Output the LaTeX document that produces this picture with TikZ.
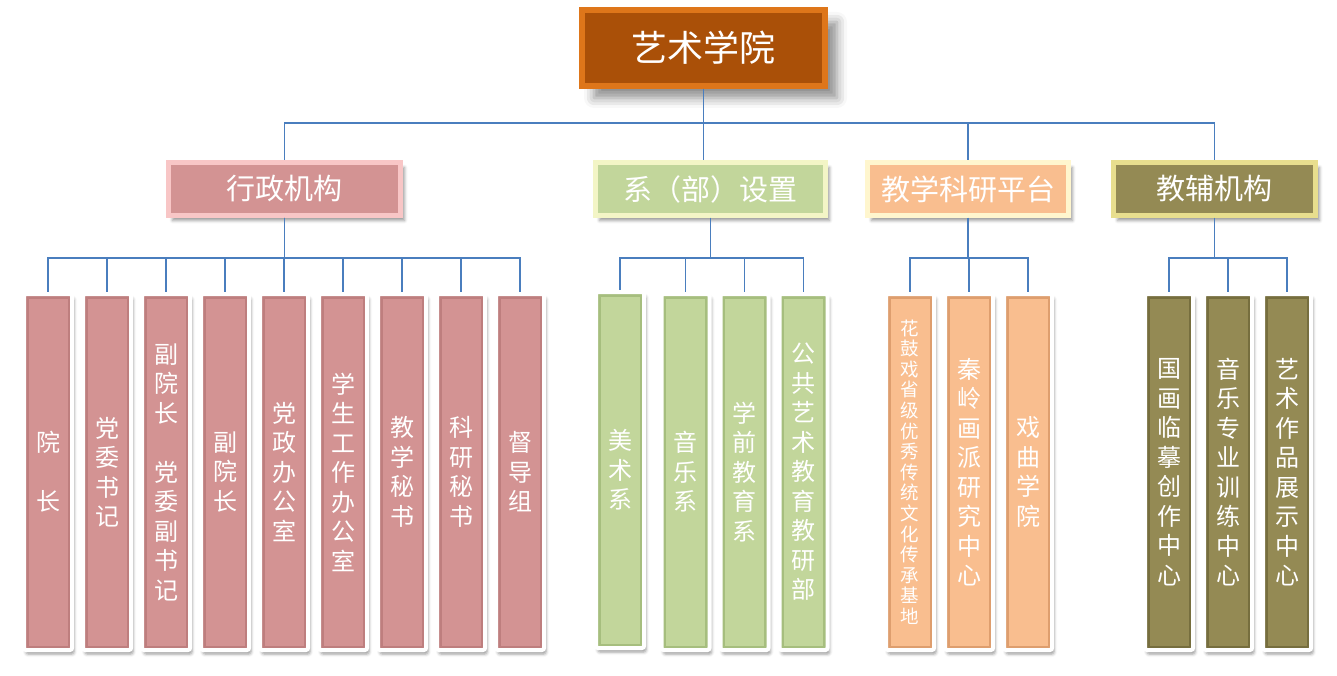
\documentclass[tikz,border=0pt]{standalone}
\usepackage{fontspec}
\newfontfamily\cjk{Noto Sans CJK SC}
\usetikzlibrary{positioning,shadows.blur}

\definecolor{linkblue}{RGB}{74,126,190}
\definecolor{rootfill}{RGB}{170,80,8}
\definecolor{rootedge}{RGB}{222,118,26}
\definecolor{admfill}{RGB}{211,147,147}
\definecolor{admedge}{RGB}{248,198,198}
\definecolor{admdark}{RGB}{190,126,126}
\definecolor{depfill}{RGB}{194,214,155}
\definecolor{depedge}{RGB}{243,245,198}
\definecolor{depdark}{RGB}{166,190,126}
\definecolor{resfill}{RGB}{249,190,143}
\definecolor{resedge}{RGB}{255,246,206}
\definecolor{resdark}{RGB}{222,158,110}
\definecolor{auxfill}{RGB}{148,138,84}
\definecolor{auxedge}{RGB}{232,222,142}
\definecolor{auxdark}{RGB}{118,110,62}

\tikzset{
	head/.style={draw=rootedge, fill=rootfill, line width=6pt, text=white,
		minimum width=243pt, minimum height=76pt, font=\cjk\fontsize{36}{40}\selectfont,
		blur shadow={shadow xshift=12pt, shadow yshift=-12pt, shadow blur radius=10pt, shadow opacity=45}},
	group/.style={draw=#1edge, fill=#1fill, line width=5pt, text=white,
		minimum height=53pt, font=\cjk\fontsize{29}{32}\selectfont,
		blur shadow={shadow xshift=4pt, shadow yshift=-5pt, shadow blur radius=3pt, shadow opacity=40}},
	unit/.style={draw=white, fill=#1fill, line width=4pt, rounded corners=2pt, text=white,
		minimum width=48pt, minimum height=356pt, align=center,
		font=\cjk\fontsize{24}{29.5}\selectfont,
		path picture={\draw[line width=9pt, draw=#1dark, sharp corners]
			(path picture bounding box.south west) rectangle (path picture bounding box.north east);},
		blur shadow={shadow xshift=2pt, shadow yshift=-4pt, shadow blur radius=3pt, shadow opacity=40}},
	link/.style={draw=linkblue, line width=1.7pt},
}

\begin{document}
\begin{tikzpicture}[x=1pt, y=-1pt, node distance=59pt]
	\useasboundingbox (0,0) rectangle (1337,676);

	\node[head] (root) at (703.5,48) {艺术学院};

	\node[group=adm, minimum width=232pt] (adm) at (284.5,189) {行政机构};
	\node[group=dep, minimum width=230pt] (dep) at (710.5,189) {系（部）设置};
	\node[group=res, minimum width=201pt] (res) at (968,189)   {教学科研平台};
	\node[group=aux, minimum width=202pt] (aux) at (1214.5,189) {教辅机构};

	\draw[link] (root.south) -- ++(0,34) -| (adm.north);
	\draw[link] (root.south) -- (root.south |- dep.north);
	\draw[link] (root.south) -- ++(0,34) -| (res.north);
	\draw[link] (root.south) -- ++(0,34) -| (aux.north);

	% administration
	\node[unit=adm] (adm1) at (48,472)    {院\\~\\长};
	\node[unit=adm] (adm2) [right of=adm1] {党\\委\\书\\记};
	\node[unit=adm] (adm3) [right of=adm2] {副\\院\\长\\~\\党\\委\\副\\书\\记};
	\node[unit=adm] (adm4) [right of=adm3] {副\\院\\长};
	\node[unit=adm] (adm5) [right of=adm4] {党\\政\\办\\公\\室};
	\node[unit=adm] (adm6) [right of=adm5] {学\\生\\工\\作\\办\\公\\室};
	\node[unit=adm] (adm7) [right of=adm6] {教\\学\\秘\\书};
	\node[unit=adm] (adm8) [right of=adm7] {科\\研\\秘\\书};
	\node[unit=adm] (adm9) [right of=adm8] {督\\导\\组};

	\draw[link] (adm.south) -- ++(0,40) -| (adm1.north);
	\draw[link] (adm.south) -- ++(0,40) -| (adm2.north);
	\draw[link] (adm.south) -- ++(0,40) -| (adm3.north);
	\draw[link] (adm.south) -- ++(0,40) -| (adm4.north);
	\draw[link] (adm.south) -- ++(0,40) -| (adm5.north);
	\draw[link] (adm.south) -- ++(0,40) -| (adm6.north);
	\draw[link] (adm.south) -- ++(0,40) -| (adm7.north);
	\draw[link] (adm.south) -- ++(0,40) -| (adm8.north);
	\draw[link] (adm.south) -- ++(0,40) -| (adm9.north);

	% departments
	\node[unit=dep] (dep1) at (620,470)    {美\\术\\系};
	\node[unit=dep] (dep2) at (685.5,472)  {音\\乐\\系};
	\node[unit=dep] (dep3) [right of=dep2] {学\\前\\教\\育\\系};
	\node[unit=dep] (dep4) [right of=dep3] {公\\共\\艺\\术\\教\\育\\教\\研\\部};

	\draw[link] (dep.south) -- ++(0,40) -| (dep1.north);
	\draw[link] (dep.south) -- ++(0,40) -| (dep2.north);
	\draw[link] (dep.south) -- ++(0,40) -| (dep3.north);
	\draw[link] (dep.south) -- ++(0,40) -| (dep4.north);

	% research platforms
	\node[unit=res, font=\cjk\fontsize{18.5}{20.6}\selectfont] (res1) at (910,472)
		{花\\鼓\\戏\\省\\级\\优\\秀\\传\\统\\文\\化\\传\\承\\基\\地};
	\node[unit=res] (res2) [right of=res1] {秦\\岭\\画\\派\\研\\究\\中\\心};
	\node[unit=res] (res3) [right of=res2] {戏\\曲\\学\\院};

	\draw[link] (res.south) -- ++(0,40) -| (res1.north);
	\draw[link] (res.south) -- ++(0,40) -| (res2.north);
	\draw[link] (res.south) -- ++(0,40) -| (res3.north);

	% teaching support
	\node[unit=aux] (aux1) at (1169,472)   {国\\画\\临\\摹\\创\\作\\中\\心};
	\node[unit=aux] (aux2) [right of=aux1] {音\\乐\\专\\业\\训\\练\\中\\心};
	\node[unit=aux] (aux3) [right of=aux2] {艺\\术\\作\\品\\展\\示\\中\\心};

	\draw[link] (aux.south) -- ++(0,40) -| (aux1.north);
	\draw[link] (aux.south) -- ++(0,40) -| (aux2.north);
	\draw[link] (aux.south) -- ++(0,40) -| (aux3.north);
\end{tikzpicture}
\end{document}
